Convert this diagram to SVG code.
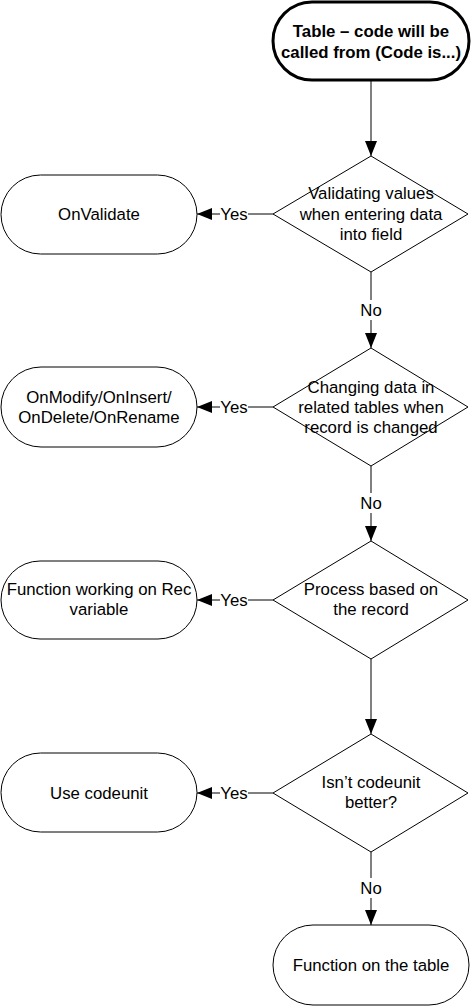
<svg xmlns="http://www.w3.org/2000/svg" width="471" height="1006" viewBox="0 0 471 1006">
<defs>
<marker id="arr" markerWidth="15" markerHeight="12" refX="15" refY="6" orient="auto" markerUnits="userSpaceOnUse">
<path d="M0,0 L15,6 L0,12 Z" fill="#000"/>
</marker>
<style>
.sh{fill:#fff;stroke:#000;stroke-width:1}
.t{font-family:"Liberation Sans",Arial,sans-serif;font-size:16.8px;fill:#000;text-anchor:middle}
.b{font-weight:bold}
.c{stroke:#000;stroke-width:1;fill:none}
.lb{fill:#fff;stroke:none}
</style>
</defs>
<rect width="471" height="1006" fill="#fff"/>
<g id="connectors">
<line class="c" x1="371" y1="80" x2="371" y2="156" marker-end="url(#arr)"/>
<line class="c" x1="273" y1="214" x2="197" y2="214" marker-end="url(#arr)"/>
<line class="c" x1="371" y1="272" x2="371" y2="348" marker-end="url(#arr)"/>
<line class="c" x1="273" y1="407" x2="197" y2="407" marker-end="url(#arr)"/>
<line class="c" x1="371" y1="466" x2="371" y2="541" marker-end="url(#arr)"/>
<line class="c" x1="273" y1="600" x2="197" y2="600" marker-end="url(#arr)"/>
<line class="c" x1="371" y1="659" x2="371" y2="734" marker-end="url(#arr)"/>
<line class="c" x1="273" y1="793" x2="197" y2="793" marker-end="url(#arr)"/>
<line class="c" x1="371" y1="852" x2="371" y2="925" marker-end="url(#arr)"/>
<rect class="lb" x="220" y="204" width="28" height="20"/>
<text class="t" x="234" y="220">Yes</text>
<rect class="lb" x="360" y="300" width="22" height="20"/>
<text class="t" x="371" y="316">No</text>
<rect class="lb" x="220" y="397" width="28" height="20"/>
<text class="t" x="234" y="413">Yes</text>
<rect class="lb" x="360" y="493" width="22" height="20"/>
<text class="t" x="371" y="509">No</text>
<rect class="lb" x="220" y="590" width="28" height="20"/>
<text class="t" x="234" y="606">Yes</text>
<rect class="lb" x="220" y="783" width="28" height="20"/>
<text class="t" x="234" y="799">Yes</text>
<rect class="lb" x="360" y="878" width="22" height="20"/>
<text class="t" x="371" y="894">No</text>
</g>
<g id="start">
<rect x="273" y="2" width="196" height="78" rx="39" ry="39" fill="#fff" stroke="#000" stroke-width="3"/>
<text class="t b" x="371" y="37">Table – code will be</text>
<text class="t b" x="371" y="58">called from (Code is...)</text>
</g>
<g id="d1">
<polygon class="sh" points="371,156 468,214 371,272 273,214"/>
<text class="t" x="371" y="199">Validating values</text>
<text class="t" x="371" y="220">when entering data</text>
<text class="t" x="371" y="240">into field</text>
</g>
<g id="onvalidate">
<rect class="sh" x="1" y="175" width="196" height="79" rx="39.5"/>
<text class="t" x="99" y="220">OnValidate</text>
</g>
<g id="d2">
<polygon class="sh" points="371,348 468,407 371,466 273,407"/>
<text class="t" x="371" y="393">Changing data in</text>
<text class="t" x="371" y="413">related tables when</text>
<text class="t" x="371" y="433">record is changed</text>
</g>
<g id="onmodify">
<rect class="sh" x="1" y="367" width="196" height="80" rx="40"/>
<text class="t" x="99" y="403">OnModify/OnInsert/</text>
<text class="t" x="99" y="423">OnDelete/OnRename</text>
</g>
<g id="d3">
<polygon class="sh" points="371,541 468,600 371,659 273,600"/>
<text class="t" x="371" y="595">Process based on</text>
<text class="t" x="371" y="615">the record</text>
</g>
<g id="funcrec">
<rect class="sh" x="1" y="561" width="196" height="78" rx="39"/>
<text class="t" x="99" y="595">Function working on Rec</text>
<text class="t" x="99" y="615">variable</text>
</g>
<g id="d4">
<polygon class="sh" points="371,734 468,793 371,852 273,793"/>
<text class="t" x="371" y="788">Isn’t codeunit</text>
<text class="t" x="371" y="808">better?</text>
</g>
<g id="usecodeunit">
<rect class="sh" x="1" y="753" width="196" height="79" rx="39.5"/>
<text class="t" x="99" y="799">Use codeunit</text>
</g>
<g id="functable">
<rect class="sh" x="273" y="925" width="196" height="80" rx="40"/>
<text class="t" x="371" y="971">Function on the table</text>
</g>
</svg>
